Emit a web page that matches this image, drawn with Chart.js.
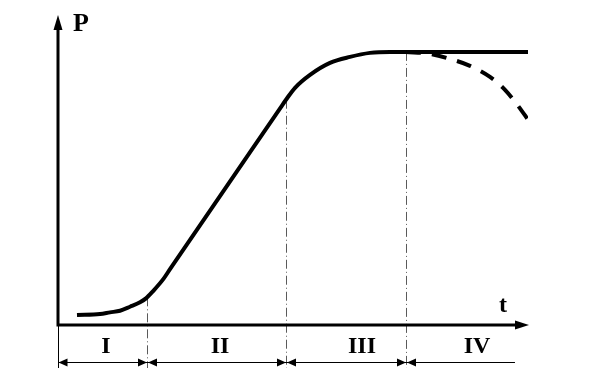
<!DOCTYPE html>
<html><head><meta charset="utf-8">
<script src="https://cdn.jsdelivr.net/npm/chart.js@4"></script>
<style>html,body{margin:0;padding:0;background:#fff;overflow:hidden;}</style>
</head><body>
<canvas id="c" width="591" height="378"></canvas>
<script>
// Main growth curve (t, P) in arbitrary units 0..100
const growthT = [4.04, 8.94, 11.06, 13.19, 15.32, 17.45, 18.72, 20.28, 22.40, 23.83, 47.4, 48.51, 50.43, 53.62, 57.87, 62.13, 66.38, 70.64, 100];
const growthP = [3.25, 3.57, 4.12, 4.64, 5.94, 7.37, 8.67, 11.14, 14.94, 18.18, 70.9, 73.38, 77.27, 81.49, 85.39, 87.34, 88.64, 88.96, 88.96];
// Declining branch (dashed)
const declineT = [74.04, 79.15, 83.40, 87.66, 91.91, 95.11, 97.87, 100];
const declineP = [88.96, 88.31, 86.69, 84.42, 80.84, 76.62, 71.43, 66.88];
// Phase boundaries and labels
const phaseBounds = [0, 18.94, 48.51, 74.04, 97.23];
const phaseLabels = ['I', 'II', 'III', 'IV'];
const phaseLabelT = [10.21, 34.47, 64.68, 89.15];
const xAxisTitle = 't';
const yAxisTitle = 'P';

function curveAt(t) {
  for (let i = 0; i < growthT.length - 1; i++) {
    if (t >= growthT[i] && t <= growthT[i + 1]) {
      const f = (t - growthT[i]) / (growthT[i + 1] - growthT[i]);
      return growthP[i] + f * (growthP[i + 1] - growthP[i]);
    }
  }
  return growthP[growthP.length - 1];
}

const overlay = {
  id: 'overlay',
  beforeDatasetsDraw(chart) {
    const { ctx, scales: { x, y }, chartArea } = chart;
    const x0 = x.getPixelForValue(0);
    const y0 = y.getPixelForValue(0);
    const bottom = y0 + 43;
    ctx.save();
    // vertical phase guide lines (dash-dot, gray)
    ctx.strokeStyle = '#5a5a5a';
    ctx.lineWidth = 1;
    ctx.setLineDash([9, 3, 1, 3]);
    for (let i = 1; i <= 3; i++) {
      const px = Math.round(x.getPixelForValue(phaseBounds[i])) + 0.5;
      const top = y.getPixelForValue(curveAt(phaseBounds[i]));
      ctx.beginPath(); ctx.moveTo(px, top); ctx.lineTo(px, bottom); ctx.stroke();
    }
    ctx.setLineDash([]);
    // left extension tick
    ctx.strokeStyle = '#000';
    ctx.lineWidth = 1;
    ctx.beginPath(); ctx.moveTo(Math.round(x0) + 0.5, y0); ctx.lineTo(Math.round(x0) + 0.5, bottom); ctx.stroke();
    // axes
    ctx.lineWidth = 3;
    ctx.fillStyle = '#000';
    ctx.beginPath();
    ctx.moveTo(x0, y0 + 1.5); ctx.lineTo(x0, chartArea.top + 10);
    ctx.moveTo(x0 - 1.5, y0); ctx.lineTo(chartArea.right - 10, y0);
    ctx.stroke();
    // arrowheads
    ctx.beginPath();
    ctx.moveTo(x0, chartArea.top - 3); ctx.lineTo(x0 - 4.5, chartArea.top + 12); ctx.lineTo(x0 + 4.5, chartArea.top + 12); ctx.closePath();
    ctx.fill();
    ctx.beginPath();
    ctx.moveTo(chartArea.right + 1, y0); ctx.lineTo(chartArea.right - 13, y0 - 4.5); ctx.lineTo(chartArea.right - 13, y0 + 4.5); ctx.closePath();
    ctx.fill();
    // dimension line
    const dy = y0 + 37;
    const xEnd = x.getPixelForValue(phaseBounds[4]);
    ctx.lineWidth = 1;
    ctx.beginPath(); ctx.moveTo(x0, dy + 0.5); ctx.lineTo(xEnd, dy + 0.5); ctx.stroke();
    const arrow = (px, dir) => {
      ctx.beginPath();
      ctx.moveTo(px, dy + 0.5);
      ctx.lineTo(px + dir * 9, dy - 3.5);
      ctx.lineTo(px + dir * 9, dy + 4.5);
      ctx.closePath(); ctx.fill();
    };
    for (let i = 0; i < 4; i++) {
      arrow(x.getPixelForValue(phaseBounds[i]) + (i === 0 ? 0.5 : 1), 1);
      if (i < 3) arrow(Math.round(x.getPixelForValue(phaseBounds[i + 1])), -1);
    }
    ctx.restore();
  },
  afterDraw(chart) {
    const { ctx, scales: { x, y }, chartArea } = chart;
    const y0 = y.getPixelForValue(0);
    ctx.save();
    ctx.fillStyle = '#000';
    ctx.textAlign = 'center';
    ctx.textBaseline = 'middle';
    ctx.font = 'bold 24px "Liberation Serif", "Times New Roman", serif';
    phaseLabels.forEach((lab, i) => {
      ctx.fillText(lab, x.getPixelForValue(phaseLabelT[i]), y0 + 22);
    });
    ctx.fillText(xAxisTitle, x.getPixelForValue(94.7), y0 - 19);
    ctx.font = 'bold 26px "Liberation Serif", "Times New Roman", serif';
    ctx.fillText(yAxisTitle, x.getPixelForValue(4.9), chartArea.top + 6);
    ctx.restore();
  }
};

new Chart(document.getElementById('c'), {
  type: 'line',
  data: {
    datasets: [
      {
        data: growthT.map((t, i) => ({ x: t, y: growthP[i] })),
        borderColor: '#000', borderWidth: 4, pointRadius: 0,
        cubicInterpolationMode: 'monotone', fill: false
      },
      {
        data: declineT.map((t, i) => ({ x: t, y: declineP[i] })),
        borderColor: '#000', borderWidth: 4, pointRadius: 0, borderDash: [15, 11],
        cubicInterpolationMode: 'monotone', fill: false
      }
    ]
  },
  options: {
    responsive: false,
    animation: false,
    devicePixelRatio: 1,
    layout: { padding: { left: 58, right: 63, top: 18, bottom: 53 } },
    plugins: { legend: { display: false }, tooltip: { enabled: false } },
    scales: {
      x: { type: 'linear', min: 0, max: 100, display: false },
      y: { type: 'linear', min: 0, max: 100, display: false }
    }
  },
  plugins: [overlay]
});
</script>
</body></html>
